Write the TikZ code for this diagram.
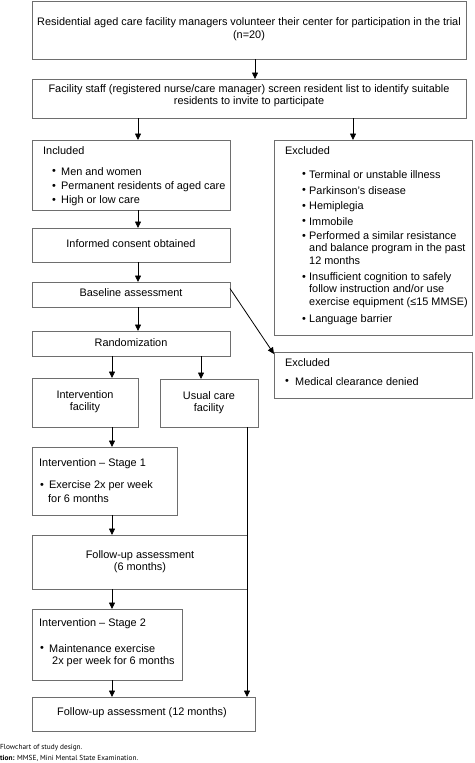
\documentclass[tikz,border=0pt]{standalone}
\usepackage{fontspec}
\setmainfont{Liberation Sans}
\newfontfamily\capfont{PT Sans}
\usetikzlibrary{arrows.meta}
\definecolor{bord}{RGB}{110,110,110}
\begin{document}
\begin{tikzpicture}[x=1pt,y=-1pt,
  box/.style={draw=bord, line width=0.9pt, rectangle, inner sep=0pt, outer sep=0pt},
  txt/.style={inner sep=0pt, font=\fontsize{10.9}{12.6}\selectfont, align=center},
  ltxt/.style={txt, anchor=west, align=left},
  arr/.style={draw=black, line width=0.8pt, -{Triangle[length=6.5pt,width=6pt]}},
  captxt/.style={inner sep=0pt, anchor=west, font=\capfont\fontsize{7.3}{8}\selectfont}]
\useasboundingbox (0,0) rectangle (474,763);
% boxes
\node[box, minimum width=434pt, minimum height=58pt] (b1) at (249,30) {};
\node[box, minimum width=434pt, minimum height=39pt] (b2) at (249,98.5) {};
\node[box, minimum width=198pt, minimum height=70pt] (incl) at (131,175) {};
\node[box, minimum width=198pt, minimum height=195pt] (excl1) at (373,237.5) {};
\node[box, minimum width=198pt, minimum height=34pt] (cons) at (131,245) {};
\node[box, minimum width=198pt, minimum height=25pt] (base) at (131,294.5) {};
\node[box, minimum width=198pt, minimum height=25pt] (rand) at (131,343.5) {};
\node[box, minimum width=198pt, minimum height=46pt] (excl2) at (373,375) {};
\node[box, minimum width=106pt, minimum height=49pt] (intf) at (85,402.5) {};
\node[box, minimum width=98pt, minimum height=48pt] (usual) at (209,403) {};
\node[box, minimum width=145pt, minimum height=68pt] (st1) at (104.5,481) {};
\node[box, minimum width=215pt, minimum height=54pt] (fu6) at (139.5,562) {};
\node[box, minimum width=150pt, minimum height=71pt] (st2) at (107,644.5) {};
\node[box, minimum width=223pt, minimum height=34pt] (fu12) at (143.5,714) {};
% texts
\node[txt] (t1) at (249,29) {Residential aged care facility managers volunteer their center for participation in the trial\\(n=20)};
\node[txt] (t2) at (249,95.5) {Facility staff (registered nurse/care manager) screen resident list to identify suitable\\residents to invite to participate};
\node[ltxt] (ti) at (43,151) {Included};
\node[ltxt] (ib1) at (52,172) {•};
\node[ltxt] (ii1) at (61,172) {Men and women};
\node[ltxt] (ib2) at (52,187) {•};
\node[ltxt] (ii2) at (61,187) {Permanent residents of aged care};
\node[ltxt] (ib3) at (52,201) {•};
\node[ltxt] (ii3) at (61,201) {High or low care};
\node[txt] (tc) at (131,244) {Informed consent obtained};
\node[txt] (tb) at (131,293) {Baseline assessment};
\node[txt] (tr) at (131,343) {Randomization};
\node[ltxt] (te) at (285,151) {Excluded};
\node[ltxt] (eb1) at (302,175) {•};
\node[ltxt] (ei1) at (309,175) {Terminal or unstable illness};
\node[ltxt] (eb2) at (302,191) {•};
\node[ltxt] (ei2) at (309,191) {Parkinson’s disease};
\node[ltxt] (eb3) at (302,207) {•};
\node[ltxt] (ei3) at (309,207) {Hemiplegia};
\node[ltxt] (eb4) at (302,222) {•};
\node[ltxt] (ei4) at (309,222) {Immobile};
\node[ltxt] (eb5) at (302,237) {•};
\node[ltxt] (ei5) at (309,249) {Performed a similar resistance\\and balance program in the past\\12 months\vphantom{g}};
\node[ltxt] (eb6) at (302,278) {•};
\node[ltxt] (ei6) at (309,290) {Insufficient cognition to safely\\follow instruction and/or use\\exercise equipment (≤15 MMSE)};
\node[ltxt] (eb7) at (302,320) {•};
\node[ltxt] (ei7) at (309,320) {Language barrier};
\node[ltxt] (te2) at (285,363) {Excluded};
\node[ltxt] (e2b) at (285,382) {•};
\node[ltxt] (e2i) at (295,382) {Medical clearance denied};
\node[txt] (tif) at (85,401.5) {Intervention\\facility};
\node[txt] (tuc) at (209,402.5) {Usual care\\facility};
\node[ltxt] (ts1) at (39,464) {Intervention – Stage 1};
\node[ltxt] (s1b) at (40,486) {•};
\node[ltxt] (s1i) at (49,486) {Exercise 2x per week};
\node[ltxt] (s1j) at (48,499) {for 6 months};
\node[txt] (tf6) at (140,561.5) {Follow-up assessment\\(6 months)};
\node[ltxt] (ts2) at (39,624) {Intervention – Stage 2};
\node[ltxt] (s2b) at (40,649) {•};
\node[ltxt] (s2i) at (49,649) {Maintenance exercise};
\node[ltxt] (s2j) at (52,662) {2x per week for 6 months};
\node[txt] (tf12) at (142,713) {Follow-up assessment (12 months)};
\node[captxt] (c1) at (0,748) {Flowchart of study design.};
\node[captxt] (c2) at (0,758) {\textbf{tion:} MMSE, Mini Mental State Examination.};
% connectors
\draw[arr] ([xshift=6pt]b1.south) -- ([xshift=6pt]b2.north);
\draw[arr] ([xshift=-111pt]b2.south) -- ([xshift=7pt]incl.north);
\draw[arr] ([xshift=104pt]b2.south) -- ([xshift=-20pt]excl1.north);
\draw[arr] ([xshift=7pt]incl.south) -- ([xshift=7pt]cons.north);
\draw[arr] ([xshift=7pt]cons.south) -- ([xshift=7pt]base.north);
\draw[arr] ([xshift=7pt]base.south) -- ([xshift=7pt]rand.north);
\draw[arr] ([yshift=6pt]base.east) -- ([yshift=-2pt]excl2.north west);
\draw[arr] ([xshift=-19pt]rand.south) -- ([xshift=27pt]intf.north);
\draw[arr] ([xshift=70pt]rand.south) -- ([xshift=-8pt]usual.north);
\draw[arr] ([xshift=27pt]intf.south) -- ([xshift=7.5pt]st1.north);
\draw[arr] ([xshift=38pt]usual.south) -- ([xshift=103.5pt]fu12.north);
\draw[arr] ([xshift=7.5pt]st1.south) -- ([xshift=-27.5pt]fu6.north);
\draw[arr] ([xshift=-27.5pt]fu6.south) -- ([xshift=5pt]st2.north);
\draw[arr] ([xshift=5pt]st2.south) -- ([xshift=-31.5pt]fu12.north);
\end{tikzpicture}
\end{document}
